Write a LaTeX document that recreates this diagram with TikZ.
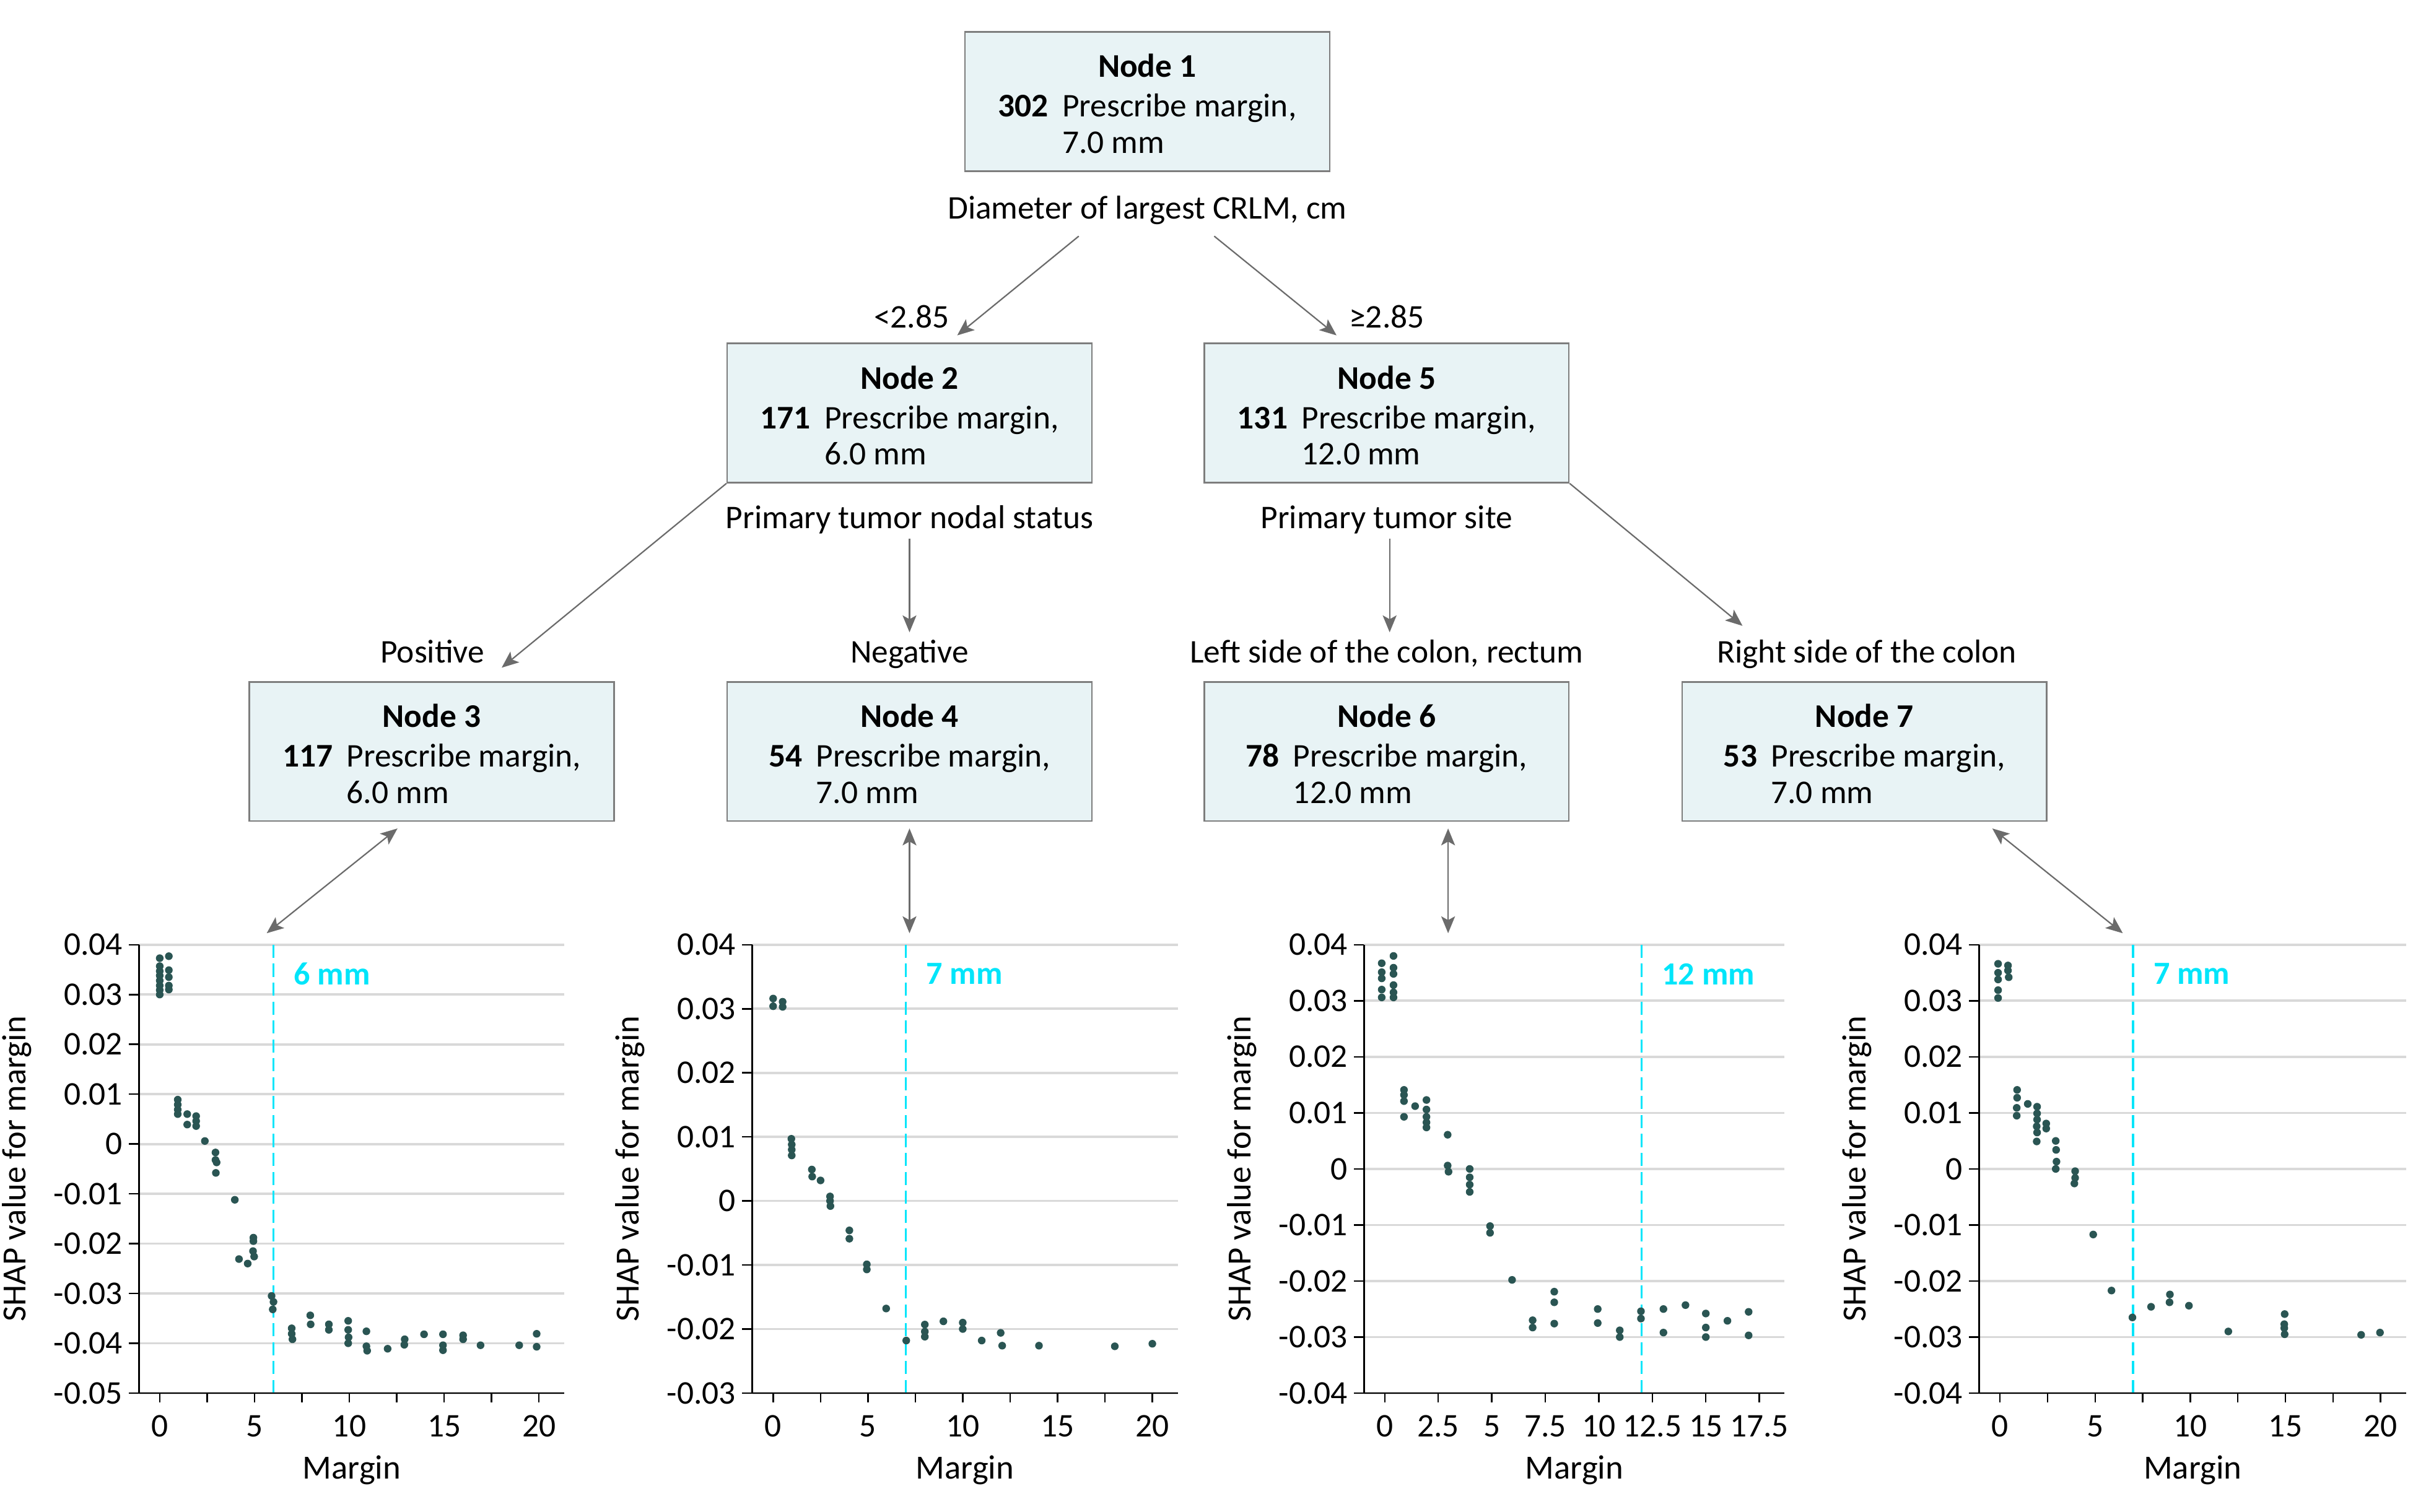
\documentclass[tikz,border=0pt]{standalone}
\usepackage{fontspec}
\setmainfont{Carlito}
\usetikzlibrary{arrows.meta}
\definecolor{boxfill}{RGB}{232,243,245}
\definecolor{boxborder}{RGB}{125,125,125}
\definecolor{arrowgray}{RGB}{107,107,107}
\definecolor{dotcol}{RGB}{42,85,83}
\definecolor{gridgray}{RGB}{217,217,217}
\definecolor{cyanc}{RGB}{0,229,250}
\tikzset{
 txt/.style={font=\fontsize{21.5}{23.5}\selectfont, inner sep=0pt},
 treebox/.style={draw=boxborder, fill=boxfill, line width=1pt, minimum width=237pt, minimum height=90.5pt, inner sep=0pt},
 boxtext/.style={txt},
 edgelab/.style={txt, anchor=base},
 conn/.style={draw=arrowgray, line width=0.9pt, -{Stealth[length=11pt,width=9pt,inset=2.5pt]}},
 biconn/.style={draw=arrowgray, line width=0.9pt, {Stealth[length=11pt,width=9pt,inset=2.5pt]}-{Stealth[length=11pt,width=9pt,inset=2.5pt]}},
 gridl/.style={draw=gridgray, line width=1.5pt},
 axl/.style={draw=black, line width=1pt},
 cyandash/.style={draw=cyanc, line width=1.5pt, dash pattern=on 8.5pt off 3.8pt},
 tickl/.style={txt},
 axlab/.style={txt, font=\fontsize{22}{24}\selectfont},
 cyanlab/.style={txt, text=cyanc, font=\fontsize{21}{23.5}\selectfont\bfseries},
 dotc/.style={fill=dotcol}
}
\newcommand\treecontent[3]{\begin{tabular}{@{}l@{\hspace{9pt}}l@{}}\multicolumn{2}{c}{\bfseries Node #1}\\[2.3pt]\bfseries #2 & Prescribe margin,\\ & #3\end{tabular}}
% #1 id, #2 xa, #3 xr, #4 ymin, #5 ymax, #6 dashed x, #7 label, #8 xtick max, #9 xlabel list
\newcommand\shapaxes[9]{%
 \foreach \v in {#4,...,#5}{\draw[gridl] (#2,\v) -- (#3,\v);}
 \draw[cyandash] (#6,#5) -- (#6,#4);
 \foreach \v [count=\k] in {#4,...,#5}{%
   \draw[axl] (#2,\v) -- ++(-6.6pt,0);
   \node[tickl,anchor=east] (#1y\k) at ([xshift=-10.5pt]#2,\v) {\ifnum\v=0 0\else\ifnum\v<0 -0.0\number-\v\else 0.0\v\fi\fi};}
 \foreach \t in {0,2.5,...,#8}{\draw[axl] (\t,#4) -- ++(0,-6.2pt);}
 \foreach \t [count=\k] in {#9}{\node[tickl] (#1x\k) at ([yshift=-21.5pt]\t,#4) {\t};}
 \draw[axl] (#2,#5) -- (#2,#4);
 \draw[axl] ([xshift=-6.6pt]#2,#4) -- (#3,#4);
 \node[cyanlab,anchor=west] (#1c) at ([xshift=13pt,yshift=-19pt]#6,#5) {#7};
 \pgfmathsetmacro\xmid{(#2+#3)/2}
 \pgfmathsetmacro\ymid{(#4+#5)/2}
 \node[axlab] (#1xl) at ([yshift=-50pt]\xmid,#4) {Margin};
 \node[axlab,rotate=90] (#1yl) at ([xshift=-79.3pt]#2,\ymid) {SHAP value for margin};
}
\begin{document}
\begin{tikzpicture}[x=1pt,y=-1pt]
\useasboundingbox (0,0) rectangle (1568,982.8);
% tree boxes
\node[treebox] (n1) at (745.5,66) {};
\node[treebox] (n2) at (591,268.5) {};
\node[treebox] (n5) at (901,268.5) {};
\node[treebox] (n3) at (280.5,488.5) {};
\node[treebox] (n4) at (591,488.5) {};
\node[treebox] (n6) at (901,488.5) {};
\node[treebox] (n7) at (1211.5,488.5) {};
\node[boxtext] (t1) at ([yshift=-4.2pt]n1.center) {\treecontent{1}{302}{7.0 mm}};
\node[boxtext] (t2) at ([yshift=-4.2pt]n2.center) {\treecontent{2}{171}{6.0 mm}};
\node[boxtext] (t5) at ([yshift=-4.2pt]n5.center) {\treecontent{5}{131}{12.0 mm}};
\node[boxtext] (t3) at ([yshift=-4.2pt]n3.center) {\treecontent{3}{117}{6.0 mm}};
\node[boxtext] (t4) at ([yshift=-4.2pt]n4.center) {\treecontent{4}{54}{7.0 mm}};
\node[boxtext] (t6) at ([yshift=-4.2pt]n6.center) {\treecontent{6}{78}{12.0 mm}};
\node[boxtext] (t7) at ([yshift=-4.2pt]n7.center) {\treecontent{7}{53}{7.0 mm}};
% split labels
\node[edgelab] (s1) at (745.5,142.3) {Diameter of largest CRLM, cm};
\node[edgelab] (s2) at (591,343.4) {Primary tumor nodal status};
\node[edgelab] (s5) at (901,343.4) {Primary tumor site};
\node[edgelab,anchor=base east] (e12) at (617,213) {<2.85};
\node[edgelab,anchor=base west] (e15) at (876.5,213) {≥2.85};
\node[edgelab] (e23) at (281,431) {Positive};
\node[edgelab] (e24) at (591,431) {Negative};
\node[edgelab] (e56) at (901,431) {Left side of the colon, rectum};
\node[edgelab] (e57) at (1213,431) {Right side of the colon};
% connector coordinates
\coordinate (c12a) at (701,153.5); \coordinate (c12b) at (622,218);
\coordinate (c15a) at (789,153.5); \coordinate (c15b) at (868.5,218);
\coordinate (c23b) at (326,434);
\coordinate (c24a) at (591,350); \coordinate (c24b) at (591,411);
\coordinate (c56a) at (903,350); \coordinate (c56b) at (903,411);
\coordinate (c57b) at (1132.3,406.8);
\coordinate (d3a) at (258.3,538.5); \coordinate (d3b) at (173.3,606.6);
\coordinate (d4a) at (591,538.5); \coordinate (d4b) at (591,606.6);
\coordinate (d6a) at (941,538.5); \coordinate (d6b) at (941,606.6);
\coordinate (d7a) at (1294.6,538.5); \coordinate (d7b) at (1379.4,606.6);
\draw[conn] (c12a) -- (c12b);
\draw[conn] (c15a) -- (c15b);
\draw[conn] (n2.south west) -- (c23b);
\draw[conn] (c24a) -- (c24b);
\draw[conn] (c56a) -- (c56b);
\draw[conn] (n5.south east) -- (c57b);
\draw[biconn] (d3a) -- (d3b);
\draw[biconn] (d4a) -- (d4b);
\draw[biconn] (d6a) -- (d6b);
\draw[biconn] (d7a) -- (d7b);
% plot 1
\begin{scope}[shift={(103.8,743.6)}, x=12.32pt, y=32.38pt]
\shapaxes{pa}{-1.088}{21.35}{-5}{4}{6}{6 mm}{20}{0,5,10,15,20}
\foreach \px/\py in {0/3.73,0/3.57,0/3.47,0/3.38,0/3.28,0/3.18,0/3.09,0/3.0,
0.48/3.77,0.48/3.49,0.48/3.35,0.48/3.18,0.48/3.10,
0.95/0.89,0.95/0.79,0.95/0.69,0.95/0.60,1.45/0.60,1.45/0.39,
1.92/0.56,1.92/0.46,1.92/0.36,2.38/0.06,
2.94/-0.17,2.94/-0.32,3.0/-0.37,2.96/-0.58,3.96/-1.12,4.18/-2.31,4.64/-2.40,
4.94/-1.88,4.94/-1.95,4.92/-2.15,4.98/-2.26,
5.9/-3.05,6.0/-3.17,5.96/-3.32,6.96/-3.70,6.96/-3.81,7.0/-3.92,
7.94/-3.44,7.96/-3.62,8.92/-3.62,8.92/-3.73,
9.94/-3.55,9.94/-3.73,9.96/-3.88,9.94/-4.0,10.9/-3.76,10.9/-4.06,10.94/-4.15,
12.02/-4.11,12.92/-3.92,12.9/-4.03,13.94/-3.82,14.94/-3.82,14.94/-4.04,14.94/-4.14,
16/-3.84,16/-3.92,16.92/-4.04,18.96/-4.04,19.88/-3.81,19.88/-4.07}
{\fill[dotc] (\px,\py) circle[radius=2.5pt];}
\end{scope}
% plot 2
\begin{scope}[shift={(502.4,780.6)}, x=12.32pt, y=41.63pt]
\shapaxes{pb}{-1.104}{21.34}{-3}{4}{7}{7 mm}{20}{0,5,10,15,20}
\foreach \px/\py in {0/3.16,0/3.04,0.5/3.11,0.5/3.03,
0.96/0.97,0.98/0.88,0.98/0.80,0.98/0.71,2.04/0.49,2.06/0.38,2.5/0.32,
3.0/0.07,3.0/0.0,3.02/-0.08,4.02/-0.46,4.02/-0.59,4.94/-0.99,4.94/-1.07,
5.96/-1.68,7.02/-2.18,8.0/-1.93,8.0/-2.04,8.0/-2.12,8.98/-1.88,10.0/-1.90,10.0/-2.0,
11.0/-2.18,12.0/-2.06,12.08/-2.26,14.02/-2.26,18.02/-2.27,20.0/-2.23}
{\fill[dotc] (\px,\py) circle[radius=2.5pt];}
\end{scope}
% plot 3
\begin{scope}[shift={(899.8,759.8)}, x=13.91pt, y=36.43pt]
\shapaxes{pc}{-0.963}{18.68}{-4}{4}{12}{12 mm}{17.5}{0,2.5,5,7.5,10,12.5,15,17.5}
\foreach \px/\py in {-0.14/3.67,-0.14/3.51,-0.14/3.40,-0.14/3.20,-0.14/3.06,
0.41/3.80,0.41/3.59,0.41/3.48,0.41/3.28,0.41/3.15,0.41/3.06,
0.9/1.41,0.9/1.32,0.9/1.21,0.9/0.93,1.42/1.12,
1.95/1.23,1.95/1.06,1.95/0.93,1.95/0.83,1.95/0.74,
2.94/0.61,2.94/0.06,2.98/-0.05,3.97/0.0,3.97/-0.15,3.97/-0.28,3.97/-0.41,
4.92/-1.02,4.92/-1.14,5.95/-1.98,6.91/-2.70,6.91/-2.83,
7.92/-2.19,7.92/-2.38,7.92/-2.76,9.95/-2.50,9.95/-2.75,10.98/-2.88,10.98/-3.0,
11.97/-2.54,11.97/-2.67,13.02/-2.50,13.02/-2.92,14.05/-2.43,
15.0/-2.58,15.0/-2.83,15.0/-3.0,16.01/-2.71,17.0/-2.55,17.0/-2.97}
{\fill[dotc] (\px,\py) circle[radius=2.5pt];}
\end{scope}
% plot 4
\begin{scope}[shift={(1299.6,759.8)}, x=12.365pt, y=36.43pt]
\shapaxes{pd}{-1.092}{21.35}{-4}{4}{7}{7 mm}{20}{0,5,10,15,20}
\foreach \px/\py in {-0.1/3.66,-0.1/3.50,-0.1/3.38,-0.1/3.19,-0.1/3.05,
0.42/3.63,0.42/3.54,0.46/3.42,
0.9/1.41,0.9/1.27,0.88/1.09,0.88/0.95,1.46/1.16,
1.95/1.11,1.95/0.99,1.95/0.88,1.93/0.76,1.95/0.65,1.93/0.49,
2.43/0.81,2.43/0.72,2.93/0.50,2.95/0.34,2.97/0.13,2.93/0.0,
3.95/-0.04,3.95/-0.16,3.91/-0.26,4.9/-1.17,5.86/-2.17,6.96/-2.65,
7.94/-2.46,8.93/-2.24,8.91/-2.38,9.93/-2.44,12.0/-2.90,
14.96/-2.59,14.94/-2.77,14.94/-2.84,14.96/-2.95,18.98/-2.96,19.97/-2.92}
{\fill[dotc] (\px,\py) circle[radius=2.5pt];}
\end{scope}
\end{tikzpicture}
\end{document}
